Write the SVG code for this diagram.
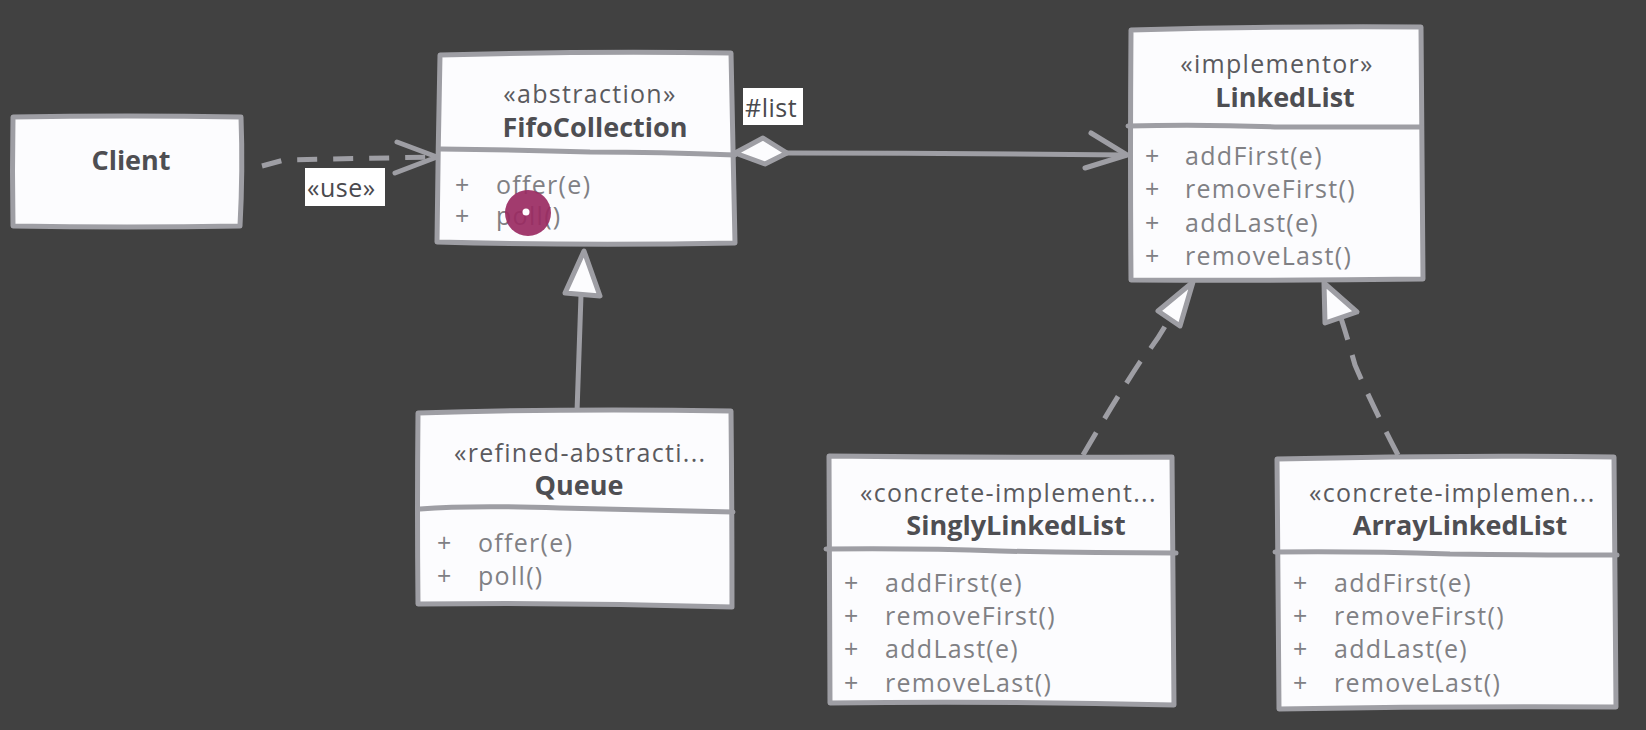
<svg xmlns="http://www.w3.org/2000/svg" width="1646" height="730" viewBox="0 0 1646 730">
<style>
.bg{fill:#414141}
.box{fill:#fcfcfe;stroke:#9e9ea4;stroke-width:5;stroke-linejoin:round;stroke-linecap:round}
.div{fill:none;stroke:#9e9ea4;stroke-width:5;stroke-linecap:round}
.ln{fill:none;stroke:#9e9ea4;stroke-width:5;stroke-linecap:round;stroke-linejoin:round}
.dash{stroke-dasharray:20 16;stroke-linecap:butt}
.tri{fill:#fcfcfe;stroke:#9e9ea4;stroke-width:5;stroke-linejoin:round}
.title{font-family:"Open Sans","Noto Sans",sans-serif;font-weight:bold;font-size:27px;fill:#4e4e52}
.st{font-family:"Open Sans","Noto Sans",sans-serif;font-size:25px;letter-spacing:1.3px;fill:#5a5a5e}
.mem{font-family:"Open Sans","Noto Sans",sans-serif;font-size:25px;letter-spacing:1.3px;fill:#808084}
.lblbg{fill:#ffffff}
.lbl{font-family:"Open Sans","Noto Sans",sans-serif;font-size:25px;letter-spacing:0.5px;fill:#4a4a4e}
</style>
<rect class="bg" x="0" y="0" width="1646" height="730"/>

<g id="connectors">
  <!-- use dependency -->
  <path class="ln dash" d="M262,166 L284,160 L434,157"/>
  <path class="ln" d="M397,142 L437,157 L395,173"/>
  <rect class="lblbg" x="305" y="168" width="80" height="38"/>
  <text class="lbl" x="307" y="197">«use»</text>
  <!-- aggregation FifoCollection -> LinkedList -->
  <path class="ln" d="M787,153 Q960,153 1126,155"/>
  <path class="tri" d="M735,153 L763,138 L787,153 L765,164 Z"/>
  <path class="ln" d="M1091,133 L1127,155 L1085,168"/>
  <rect class="lblbg" x="743" y="88" width="60" height="37"/>
  <text class="lbl" x="745" y="117">#list</text>
  <!-- generalization Queue -> FifoCollection -->
  <path class="ln" d="M577,412 L581,295"/>
  <path class="tri" d="M584,251 L600,296 L565,293 Z"/>
  <!-- realization SinglyLinkedList -> LinkedList -->
  <path class="ln dash" d="M1083,455 Q1115,400 1140,362 Q1158,340 1169,319" style="stroke-dasharray:26 16"/>
  <path class="tri" d="M1193,282 L1180,326 L1158,311 Z"/>
  <!-- realization ArrayLinkedList -> LinkedList -->
  <path class="ln dash" d="M1398,455 Q1372,405 1355,365 Q1348,340 1341,318" style="stroke-dasharray:26 16"/>
  <path class="tri" d="M1324,283 L1357,312 L1325,323 Z"/>
</g>

<g id="client">
  <path class="box" d="M13,117 Q127,115 241,117 Q243,171 240,226 Q127,228 13,226 Q12,171 13,117 Z"/>
  <text class="title" x="131" y="170" text-anchor="middle">Client</text>
</g>

<g id="fifocollection">
  <path class="box" d="M440,55 Q585,51 731,53 Q733,148 735,243 Q586,246 437,242 Q438,148 440,55 Z"/>
  <path class="div" d="M440,149 Q520,150 590,152 Q660,152 735,155"/>
  <text class="st" x="590" y="103" text-anchor="middle">«abstraction»</text>
  <text class="title" x="595" y="137" text-anchor="middle">FifoCollection</text>
  <text class="mem" x="455" y="194">+</text><text class="mem" x="496" y="194">offer(e)</text>
  <text class="mem" x="455" y="225">+</text><text class="mem" x="496" y="225">poll()</text>
</g>

<g id="linkedlist">
  <path class="box" d="M1131,30 Q1276,26 1421,27 Q1422,153 1423,279 Q1277,281 1131,280 Q1130,155 1131,30 Z"/>
  <path class="div" d="M1128,126 Q1200,124 1280,127 Q1350,127 1421,127"/>
  <text class="st" x="1277" y="73" text-anchor="middle">«implementor»</text>
  <text class="title" x="1285" y="107" text-anchor="middle">LinkedList</text>
  <text class="mem" x="1145" y="165">+</text><text class="mem" x="1185" y="165">addFirst(e)</text>
  <text class="mem" x="1145" y="198">+</text><text class="mem" x="1185" y="198">removeFirst()</text>
  <text class="mem" x="1145" y="232">+</text><text class="mem" x="1185" y="232">addLast(e)</text>
  <text class="mem" x="1145" y="265">+</text><text class="mem" x="1185" y="265">removeLast()</text>
</g>

<g id="queue">
  <path class="box" d="M418,413 Q575,408 731,411 Q732,509 732,607 Q575,602 418,604 Q417,508 418,413 Z"/>
  <path class="div" d="M420,509 Q470,505 560,508 Q650,510 733,512"/>
  <text class="st" x="454" y="462">«refined-abstracti...</text>
  <text class="title" x="579" y="495" text-anchor="middle">Queue</text>
  <text class="mem" x="437" y="552">+</text><text class="mem" x="478" y="552">offer(e)</text>
  <text class="mem" x="437" y="585">+</text><text class="mem" x="478" y="585">poll()</text>
</g>

<g id="singlylinkedlist">
  <path class="box" d="M829,456 Q1000,458 1172,457 Q1173,581 1174,705 Q1002,701 830,703 Q829,580 829,456 Z"/>
  <path class="div" d="M826,549 Q920,548 1000,551 Q1090,553 1176,553"/>
  <text class="st" x="860" y="502">«concrete-implement...</text>
  <text class="title" x="1016" y="535" text-anchor="middle">SinglyLinkedList</text>
  <text class="mem" x="844" y="592">+</text><text class="mem" x="885" y="592">addFirst(e)</text>
  <text class="mem" x="844" y="625">+</text><text class="mem" x="885" y="625">removeFirst()</text>
  <text class="mem" x="844" y="658">+</text><text class="mem" x="885" y="658">addLast(e)</text>
  <text class="mem" x="844" y="692">+</text><text class="mem" x="885" y="692">removeLast()</text>
</g>

<g id="arraylinkedlist">
  <path class="box" d="M1277,459 Q1446,455 1614,457 Q1615,582 1616,707 Q1447,706 1279,709 Q1278,584 1277,459 Z"/>
  <path class="div" d="M1275,552 Q1360,551 1450,554 Q1540,555 1617,555"/>
  <text class="st" x="1309" y="502">«concrete-implemen...</text>
  <text class="title" x="1460" y="535" text-anchor="middle">ArrayLinkedList</text>
  <text class="mem" x="1293" y="592">+</text><text class="mem" x="1334" y="592">addFirst(e)</text>
  <text class="mem" x="1293" y="625">+</text><text class="mem" x="1334" y="625">removeFirst()</text>
  <text class="mem" x="1293" y="658">+</text><text class="mem" x="1334" y="658">addLast(e)</text>
  <text class="mem" x="1293" y="692">+</text><text class="mem" x="1334" y="692">removeLast()</text>
</g>

<g id="cursor">
  <circle cx="528" cy="213" r="23" fill="#9a2a62" fill-opacity="0.92"/>
  <circle cx="526" cy="212" r="3.5" fill="#ffffff"/>
</g>
</svg>
